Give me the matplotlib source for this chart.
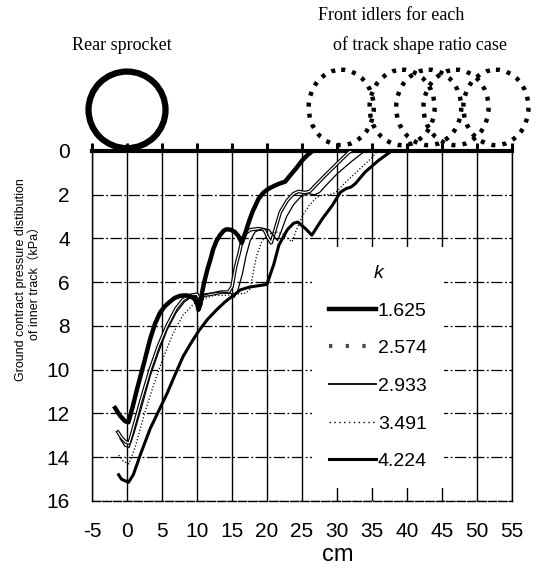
import matplotlib
matplotlib.use("Agg")
import matplotlib.pyplot as plt
import matplotlib.patheffects as pe
from matplotlib.lines import Line2D
from matplotlib.patches import Ellipse

plt.rcParams["font.family"] = ["Liberation Sans", "DejaVu Sans"]

# ---- data ----
x_ticks = [-5, 0, 5, 10, 15, 20, 25, 30, 35, 40, 45, 50, 55]
y_ticks = [0, 2, 4, 6, 8, 10, 12, 14, 16]
k_labels = ["1.625", "2.574", "2.933", "3.491", "4.224"]

x_1625 = [-1.7, -1.0, -0.3, 0.2, 0.8, 1.5, 2.5, 3.3, 4.0, 4.7, 5.4, 6.1, 6.8, 7.6, 8.4,
          9.0, 9.6, 10.0, 10.2, 10.5, 10.7, 11.1, 11.5, 11.9, 12.3, 12.8, 13.3, 13.8,
          14.2, 14.8, 15.4, 15.9, 16.4, 16.9, 17.4, 17.9, 18.8, 19.5, 20.2, 21.0, 21.7,
          22.6, 23.3, 24.2, 25.0, 25.8, 26.5]
y_1625 = [11.75, 12.1, 12.35, 12.4, 11.7, 10.8, 9.6, 8.6, 7.9, 7.4, 7.1, 6.9, 6.72, 6.62,
          6.6, 6.64, 6.75, 6.95, 7.26, 7.0, 6.5, 5.9, 5.4, 4.98, 4.5, 4.1, 3.84, 3.65,
          3.58, 3.6, 3.7, 3.88, 4.2, 3.75, 3.25, 2.8, 2.18, 1.9, 1.73, 1.6, 1.5, 1.4,
          1.12, 0.78, 0.44, 0.18, 0.0]

x_2574 = [-1.3, -0.8, -0.2, 0.3, 0.8, 2.0, 3.3, 4.5, 5.7, 7.0, 8.0, 9.0, 10.0, 10.5,
          10.9, 12.0, 13.5, 14.5, 15.0, 15.5, 16.0, 16.5, 17.0, 17.6, 18.8, 19.6, 20.2,
          20.6, 21.2, 21.9, 22.9, 23.8, 24.5, 25.4, 26.1, 26.9, 28.3, 30.2, 31.7, 32.0]
y_2574 = [12.85, 13.1, 13.3, 13.35, 12.8, 11.4, 10.0, 8.9, 8.0, 7.2, 6.8, 6.6, 6.55, 6.9,
          6.6, 6.55, 6.45, 6.45, 6.2, 5.3, 4.7, 4.0, 3.75, 3.6, 3.55, 3.6, 4.0,
          4.2, 3.55, 2.8, 2.26, 1.95, 1.85, 1.9, 1.85, 1.58, 1.12, 0.52, 0.06, 0.0]

x_2933 = [-1.0, -0.3, 0.3, 1.0, 2.0, 3.3, 4.5, 5.7, 7.0, 8.2, 9.5, 10.3, 10.8, 12.0, 13.5,
          14.8, 15.3, 15.8, 16.5, 17.0, 17.6, 18.3, 19.3, 20.3, 21.0, 21.5, 22.0, 22.8,
          23.8, 24.8, 25.8, 26.8, 27.5, 28.5, 30.0, 32.0, 34.0]
y_2933 = [13.15, 13.5, 13.55, 12.9, 11.8, 10.3, 9.2, 8.2, 7.4, 6.9, 6.6, 6.75, 6.6, 6.5,
          6.45, 6.5, 6.7, 6.4, 5.6, 4.8, 4.1, 3.7, 3.55, 3.6, 3.9, 4.1, 3.7, 3.0,
          2.45, 2.1, 1.95, 2.0, 1.9, 1.55, 1.05, 0.5, 0.0]

x_3491 = [-1.2, -0.5, 0.3, 1.2, 2.5, 3.8, 5.0, 6.5, 8.0, 9.5, 11.0, 12.5, 14.0, 15.5,
          17.0, 17.6, 18.0, 18.5, 19.3, 20.3, 21.3, 22.3, 23.0, 23.6, 24.2, 25.0, 26.0,
          27.0, 28.0, 29.0, 29.8, 31.0, 33.0, 35.0, 35.8]
y_3491 = [13.9, 14.2, 14.3, 13.5, 12.0, 10.7, 9.6, 8.4, 7.5, 7.0, 6.75, 6.6, 6.6, 6.55,
          6.5, 6.3, 5.6, 4.8, 4.1, 3.8, 3.7, 3.8, 4.0, 4.15, 3.6, 3.0, 2.5,
          2.15, 2.0, 2.0, 1.9, 1.5, 0.9, 0.3, 0.0]

x_4224 = [-1.2, -0.8, 0.2, 0.9, 2.0, 3.3, 4.5, 5.7, 6.9, 8.0, 9.2, 10.3, 11.5, 12.8, 14.0,
          15.2, 16.2, 17.5, 20.0, 20.3, 20.95, 21.7, 22.9, 23.8, 24.4, 25.5, 26.4, 27.2,
          27.9, 29.3, 30.5, 31.3, 32.0, 32.6, 34.0, 35.9, 37.8]
y_4224 = [14.8, 15.0, 15.15, 14.8, 13.8, 12.7, 11.9, 11.1, 10.2, 9.4, 8.75, 8.2, 7.7, 7.26,
          6.9, 6.6, 6.35, 6.22, 6.1, 5.8, 5.2, 4.3, 3.6, 3.3, 3.25, 3.55, 3.85, 3.45,
          3.1, 2.5, 1.88, 1.72, 1.65, 1.5, 0.97, 0.44, 0.0]

# wheels drawn above the ground line (cm positions)
sprocket_x = 0.0
idler_x = [30.6, 39.3, 43.1, 47.0, 52.7]

# ---- figure ----
fig = plt.figure(figsize=(5.41, 5.68), dpi=100)
ax = fig.add_axes([0.1701, 0.1180, 0.7763, 0.6162])
ax.set_xlim(-5, 55)
ax.set_ylim(16, 0)
ax.set_xticks(x_ticks)
ax.set_yticks(y_ticks)
ax.set_xticklabels([str(v) for v in x_ticks])

ax.set_axisbelow(True)
ax.xaxis.grid(True, color="k", lw=1.0)
ax.yaxis.grid(True, color="k", lw=0.9, ls=(0, (9, 2, 1.5, 2)))

for side in ("left", "right", "bottom"):
    ax.spines[side].set_linewidth(1.0)
ax.spines["bottom"].set_linestyle((0, (6, 1.5)))
ax.spines["top"].set_linewidth(3.0)

ax.tick_params(axis="x", bottom=False, top=True, labelbottom=True, labeltop=False,
               direction="out", length=6, width=2.2, pad=9, labelsize=15)
ax.tick_params(axis="y", length=0, pad=16, labelsize=15)

# pressure curves
ax.plot(x_1625, y_1625, color="k", lw=3.2, zorder=6, solid_joinstyle="round")
ax.plot(x_2574, y_2574, color="white", lw=0.9, zorder=4,
        path_effects=[pe.Stroke(linewidth=2.6, foreground="k"), pe.Normal()])
ax.plot(x_2933, y_2933, color="k", lw=0.9, zorder=4)
ax.plot(x_3491, y_3491, color="k", lw=0.9, ls=(0, (1, 1.6)), zorder=4)
ax.plot(x_4224, y_4224, color="k", lw=2.2, zorder=5)

# wheels
ax.add_patch(Ellipse((sprocket_x, -1.88), width=11.0, height=3.5, fill=False,
                     lw=4.5, color="k", clip_on=False))
for cx in idler_x:
    ax.add_patch(Ellipse((cx, -1.99), width=9.3, height=3.45, fill=False, lw=3.2,
                         color="k", ls=(0, (0.9, 1.6)), clip_on=False))

handles = [
    Line2D([], [], color="k", lw=3.2),
    Line2D([], [], color="0.3", lw=3.0, ls=(0, (0.8, 3.2))),
    Line2D([], [], color="k", lw=1.3),
    Line2D([], [], color="k", lw=1.0, ls=(0, (1, 2.5))),
    Line2D([], [], color="k", lw=2.2),
]
leg = ax.legend(handles, k_labels, title="k", loc="upper left",
                bbox_to_anchor=(0.500, 0.752), frameon=True, facecolor="white",
                edgecolor="none", framealpha=1, fancybox=False, fontsize=14,
                title_fontproperties={"style": "italic", "size": 14},
                handlelength=2.4, handletextpad=0.1, labelspacing=1.03, borderpad=0.9)
leg.set_zorder(3)

ax.set_xlabel("cm", fontsize=17)
ax.xaxis.set_label_coords(0.586, -0.122)

fig.text(28 / 541, 1 - 280 / 568,
         "Ground contract pressure distibution\nof inner track（kPa）",
         rotation=90, ha="center", va="center", fontsize=9, multialignment="center",
         family=["Liberation Sans", "Noto Sans CJK SC"])

serif = ["Liberation Serif", "DejaVu Serif"]
fig.text(122 / 541, 1 - 45 / 568, "Rear sprocket", ha="center", va="center",
         fontsize=13, family=serif)
fig.text(391 / 541, 1 - 16 / 568, "Front idlers for each", ha="center", va="center",
         fontsize=13, family=serif)
fig.text(420 / 541, 1 - 45 / 568, "of track shape ratio case", ha="center", va="center",
         fontsize=13, family=serif)

fig.savefig("out.png", dpi=100)
